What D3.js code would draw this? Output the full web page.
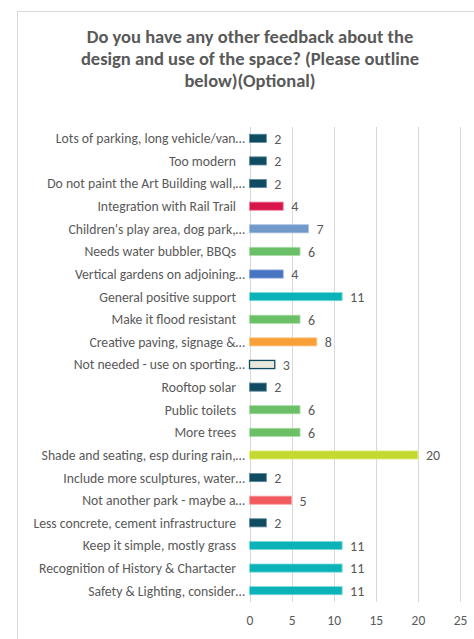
<!DOCTYPE html>
<html>
<head>
<meta charset="utf-8">
<script src="https://cdn.jsdelivr.net/npm/d3@7"></script>
<style>
  html, body { margin: 0; padding: 0; background: #fff; }
  svg { display: block; }
  text { font-family: Carlito, Calibri, Lato, "Noto Sans", sans-serif; }
</style>
</head>
<body>
<svg id="chart" width="474" height="639"></svg>
<script>
const titleLines = [
  "Do you have any other feedback about the",
  "design and use of the space? (Please outline",
  "below)(Optional)"
];
const categories = [
  "Lots of parking, long vehicle/van\u2026",
  "Too modern",
  "Do not paint the Art Building wall,\u2026",
  "Integration with Rail Trail",
  "Children's play area, dog park,\u2026",
  "Needs water bubbler, BBQs",
  "Vertical gardens on adjoining\u2026",
  "General positive support",
  "Make it flood resistant",
  "Creative paving, signage &\u2026",
  "Not needed - use on sporting\u2026",
  "Rooftop solar",
  "Public toilets",
  "More trees",
  "Shade and seating, esp during rain,\u2026",
  "Include more sculptures, water\u2026",
  "Not another park - maybe a\u2026",
  "Less concrete, cement infrastructure",
  "Keep it simple, mostly grass",
  "Recognition of History & Chartacter",
  "Safety & Lighting, consider\u2026"
];
const values = [2, 2, 2, 4, 7, 6, 4, 11, 6, 8, 3, 2, 6, 6, 20, 2, 5, 2, 11, 11, 11];
const fills = [
  "#0f4c62", "#0f4c62", "#0f4c62", "#d8164b", "#7199c9", "#6bbf66", "#4873c3",
  "#0bb3b8", "#6bbf66", "#f99f38", "#e9e8dc", "#0f4c62", "#6bbf66", "#6bbf66",
  "#c5d82f", "#0f4c62", "#f15b5d", "#0f4c62", "#0bb3b8", "#0bb3b8", "#0bb3b8"
];
const strokes = [
  "#5f8999", "#5f8999", "#5f8999", "#ee7c9b", "#a7c0e0", "#a8dca4", "#8aa6dc",
  "#7bdadd", "#a8dca4", "#fcc98d", "#0f4c62", "#5f8999", "#a8dca4", "#a8dca4",
  "#e0ec8a", "#5f8999", "#f8a3a4", "#5f8999", "#7bdadd", "#7bdadd", "#7bdadd"
];
const xTicks = [0, 5, 10, 15, 20, 25];

const svg = d3.select("#chart");
const grey = "#595959";

// chart area border
svg.append("rect")
  .attr("x", 17.5).attr("y", 11.5)
  .attr("width", 480).attr("height", 650)
  .attr("fill", "#fff").attr("stroke", "#d9d9d9").attr("stroke-width", 1);

// title
svg.append("text")
  .attr("x", 250).attr("y", 43)
  .attr("text-anchor", "middle")
  .attr("fill", grey)
  .attr("font-size", 18.5).attr("font-weight", "bold")
  .selectAll("tspan").data(titleLines).join("tspan")
  .attr("x", 250)
  .attr("dy", (d, i) => i === 0 ? 0 : 22)
  .text(d => d);

const x = d3.scaleLinear().domain([0, 25]).range([249.5, 460]);
const y = d3.scaleBand().domain(categories).range([127, 602]).paddingInner(0.64).paddingOuter(0.32);

// gridlines
svg.append("g").selectAll("line").data(xTicks).join("line")
  .attr("x1", d => Math.round(x(d)) + 0.5).attr("x2", d => Math.round(x(d)) + 0.5)
  .attr("y1", 127).attr("y2", 602)
  .attr("stroke", "#d9d9d9").attr("stroke-width", 1);

// x axis labels
const xAxis = d3.axisBottom(x).tickValues(xTicks).tickSize(0).tickPadding(0);
const gx = svg.append("g").attr("transform", "translate(0,615)").call(xAxis);
gx.select(".domain").remove();
gx.selectAll("text").attr("fill", grey).attr("font-size", 13.5)
  .attr("font-family", "Carlito, Calibri, Lato, 'Noto Sans', sans-serif");

// category labels
svg.append("g").selectAll("text").data(categories).join("text")
  .attr("x", d => d.endsWith("\u2026") ? 245 : 236)
  .attr("y", d => y(d) + y.bandwidth() / 2)
  .attr("dy", "0.36em")
  .attr("text-anchor", "end")
  .attr("fill", grey)
  .attr("font-size", 13.7)
  .text(d => d);

// bars
svg.append("g").selectAll("rect").data(categories).join("rect")
  .attr("x", x(0))
  .attr("y", d => y(d))
  .attr("width", (d, i) => x(values[i]) - x(0))
  .attr("height", y.bandwidth())
  .attr("fill", (d, i) => fills[i])
  .attr("stroke", (d, i) => strokes[i])
  .attr("stroke-width", (d, i) => i === 10 ? 1.3 : 0.8);

// value labels
svg.append("g").selectAll("text").data(categories).join("text")
  .attr("x", (d, i) => x(values[i]) + 8)
  .attr("y", d => y(d) + y.bandwidth() / 2)
  .attr("dy", "0.38em")
  .attr("fill", grey)
  .attr("font-size", 14)
  .text((d, i) => values[i]);
</script>
</body>
</html>
